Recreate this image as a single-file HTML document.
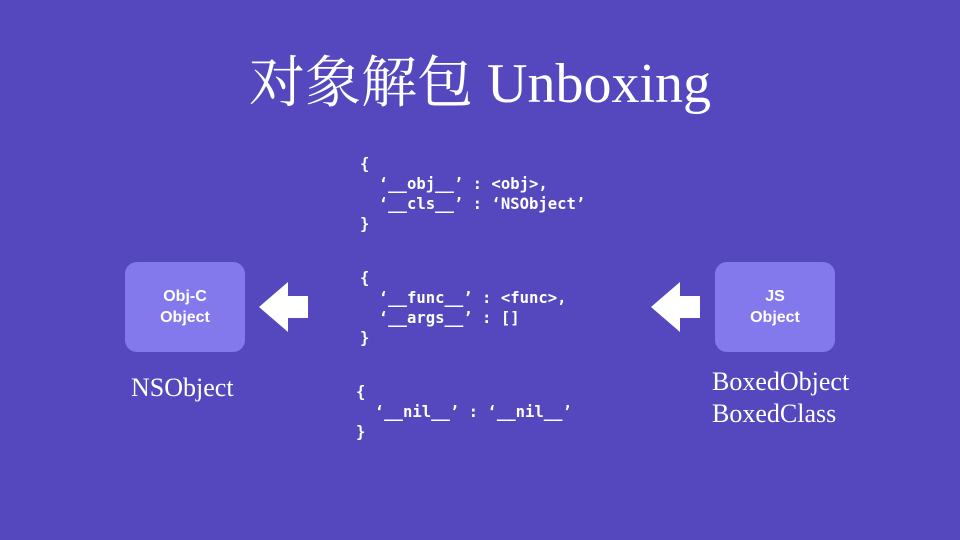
<!DOCTYPE html>
<html><head><meta charset="utf-8"><style>
body{margin:0;width:960px;height:540px;background:#5547bd;position:relative;overflow:hidden;font-family:"Liberation Sans",sans-serif;color:#fff}
.t{position:absolute;left:0;width:960px;top:39px;text-align:center;font:56px "Liberation Serif","Noto Serif CJK SC",serif}
.box{position:absolute;width:120px;height:90px;border-radius:12px;background:#8479ec;display:flex;align-items:center;justify-content:center;text-align:center;font-weight:bold;font-size:16px;line-height:21px}
pre{position:absolute;margin:0;font:bold 15.6px/20px "DejaVu Sans Mono","Liberation Mono",monospace;color:#fff}
.s{position:absolute;font:26px/32px "Liberation Serif",serif}
</style></head><body>
<div class="t">对象解包 Unboxing</div>
<div class="box" style="left:125px;top:262px">Obj-C<br>Object</div>
<div class="box" style="left:715px;top:262px">JS<br>Object</div>
<svg style="position:absolute;left:0;top:0" width="960" height="540">
<polygon points="259,307 288,282 288,296 308,296 308,318 288,318 288,332" fill="#fff"/>
<polygon points="651,307 680,282 680,296 700,296 700,318 680,318 680,332" fill="#fff"/>
</svg>
<pre style="left:360px;top:154px">{
  ‘__obj__’ : &lt;obj&gt;,
  ‘__cls__’ : ‘NSObject’
}</pre>
<pre style="left:360px;top:268px">{
  ‘__func__’ : &lt;func&gt;,
  ‘__args__’ : []
}</pre>
<pre style="left:356px;top:382px">{
  ‘__nil__’ : ‘__nil__’
}</pre>
<div class="s" style="left:131px;top:372px">NSObject</div>
<div class="s" style="left:712px;top:366px">BoxedObject<br>BoxedClass</div>
</body></html>
